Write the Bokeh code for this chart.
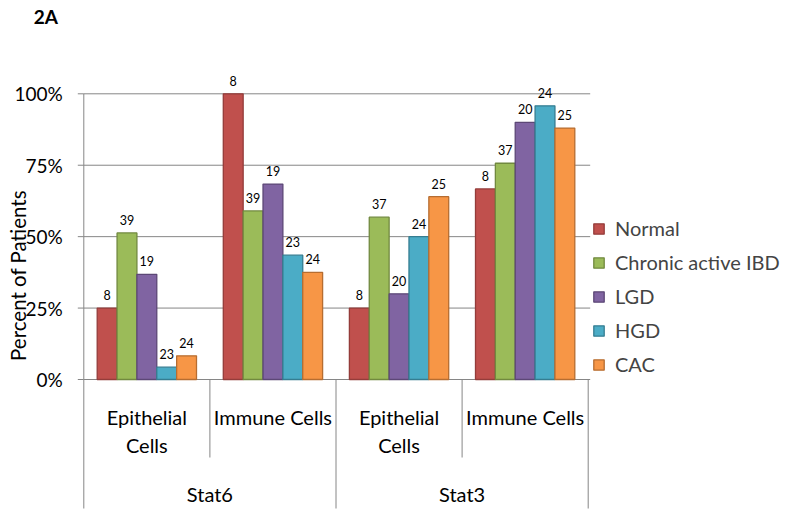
import math
from bokeh.plotting import figure
from bokeh.models import Range1d, ColumnDataSource, Legend, LegendItem
from bokeh.transform import dodge
from bokeh.core.properties import value
from bokeh.embed import file_html
from bokeh.resources import INLINE

# ---------------- data ----------------
markers = ["Stat6", "Stat3"]
cell_types = ["Epithelial Cells", "Immune Cells"]
cell_tick_labels = ["Epithelial\nCells", "Immune Cells"]
stages = ["Normal", "Chronic active IBD", "LGD", "HGD", "CAC"]

# percent of patients, order: Stat6-Epi, Stat6-Imm, Stat3-Epi, Stat3-Imm
normal = [25.0, 100.0, 25.0, 66.7]
chronic_ibd = [51.3, 59.0, 56.8, 75.7]
lgd = [36.8, 68.4, 30.0, 90.0]
hgd = [4.3, 43.5, 50.0, 95.8]
cac = [8.3, 37.5, 64.0, 88.0]

# number of patients (data labels)
n_normal = [8, 8, 8, 8]
n_chronic_ibd = [39, 39, 37, 37]
n_lgd = [19, 19, 20, 20]
n_hgd = [23, 23, 24, 24]
n_cac = [24, 24, 25, 25]

y_ticks = [0, 25, 50, 75, 100]
y_tick_labels = ["0%", "25%", "50%", "75%", "100%"]
y_title = "Percent of Patients"
panel_title = "2A"

fills = ["#C0504D", "#9BBB59", "#8064A2", "#4BACC6", "#F79646"]
lines = ["#943C3A", "#71893F", "#5C4776", "#357D91", "#B66D31"]

series = [normal, chronic_ibd, lgd, hgd, cac]
counts = [n_normal, n_chronic_ibd, n_lgd, n_hgd, n_cac]

# ---------------- layout ----------------
W, H = 796, 513
PX_X = 126.1        # pixels per category slot
PX_Y = 2.857        # pixels per percent
LEFT = 83.3         # px from canvas left to the value axis
ZERO = 379.0        # px from canvas top to 0 %
FONT = "Lato"
GRID = "#868686"

n_cat = len(markers) * len(cell_types)
cat_x = [i + 0.5 for i in range(n_cat)]
cat_lab = [cell_tick_labels[i % len(cell_types)] for i in range(n_cat)]

p = figure(width=W, height=H,
           x_range=Range1d(-LEFT / PX_X, (W - LEFT) / PX_X),
           y_range=Range1d(-(H - ZERO) / PX_Y, ZERO / PX_Y),
           x_axis_location=None, y_axis_location=None,
           output_backend="svg", toolbar_location=None,
           min_border=0, min_border_left=0, min_border_right=0,
           min_border_top=0, min_border_bottom=0)
p.outline_line_color = None
p.grid.visible = False

# gridlines + value axis
gsrc = ColumnDataSource(dict(y=y_ticks, lab=y_tick_labels))
p.segment(x0=0, x1=n_cat + 2 / PX_X, y0="y", y1="y", source=gsrc,
          line_color=GRID, line_width=1)
p.segment(x0=0, x1=0, y0=y_ticks[0], y1=y_ticks[-1], line_color=GRID, line_width=1)
p.segment(x0=-6 / PX_X, x1=0, y0="y", y1="y", source=gsrc, line_color=GRID, line_width=1)
p.text(x=0, y="y", text="lab", source=gsrc, x_offset=-21, text_align="right",
       text_baseline="middle", text_font=value(FONT), text_font_size="19px",
       text_color="#000000")

# bars + data labels
bar_w = 0.1575
items = []
for i, (vals, ns) in enumerate(zip(series, counts)):
    src = ColumnDataSource(dict(x=cat_x, top=vals, label=[str(n) for n in ns]))
    off = (i - (len(series) - 1) / 2) * bar_w
    r = p.vbar(x=dodge("x", off), top="top", bottom=0, width=bar_w,
               source=src, fill_color=fills[i], line_color=lines[i], line_width=1.3)
    p.text(x=dodge("x", off), y="top", text="label", source=src,
           text_font=value(FONT), text_font_size="12.5px", text_align="center",
           text_baseline="middle", y_offset=-13, text_color="#000000")
    items.append(LegendItem(label=stages[i], renderers=[r]))

# category axis labels
inner_src = ColumnDataSource(dict(x=cat_x, label=cat_lab))
p.text(x="x", y=0, text="label", source=inner_src, y_offset=25, text_font=value(FONT),
       text_font_size="20px", text_align="center", text_baseline="top",
       text_line_height=1.17, text_color="#000000")
outer_x = [sum(cat_x[j * 2:(j + 1) * 2]) / 2 for j in range(len(markers))]
outer_src = ColumnDataSource(dict(x=outer_x, label=markers))
p.text(x="x", y=0, text="label", source=outer_src, y_offset=114, text_font=value(FONT),
       text_font_size="20px", text_align="center", text_baseline="middle",
       text_color="#000000")

# separators
inner_sep = ColumnDataSource(dict(x=[cat_x[j * 2 + 1] - 0.5 for j in range(len(markers))]))
p.segment(x0="x", x1="x", y0=0, y1=-78 / PX_Y, source=inner_sep,
          line_color=GRID, line_width=1)
outer_sep = ColumnDataSource(dict(x=[cat_x[j * 2] - 0.5 for j in range(len(markers))]
                                  + [cat_x[-1] + 0.5]))
p.segment(x0="x", x1="x", y0=0, y1=-129 / PX_Y, source=outer_sep,
          line_color=GRID, line_width=1)

# titles
p.text(x=0, y=y_ticks[-1], text=[panel_title], x_offset=-50, y_offset=-77,
       text_font=value(FONT), text_font_style="bold", text_font_size="19px",
       text_align="left", text_baseline="middle", text_color="#000000")
p.text(x=0, y=0, text=[y_title], x_offset=-66, y_offset=-104, angle=math.pi / 2,
       text_font=value(FONT), text_font_size="20.5px", text_align="center",
       text_baseline="middle", text_color="#000000")

legend = Legend(items=items, location=(592, H - 376), border_line_color=None,
                background_fill_alpha=0, label_text_font=FONT,
                label_text_font_size="20px", glyph_width=13, glyph_height=13,
                label_height=24, spacing=10, padding=10, margin=0,
                label_standoff=10)
p.add_layout(legend)

open("out.html", "w").write(file_html(p, INLINE))
